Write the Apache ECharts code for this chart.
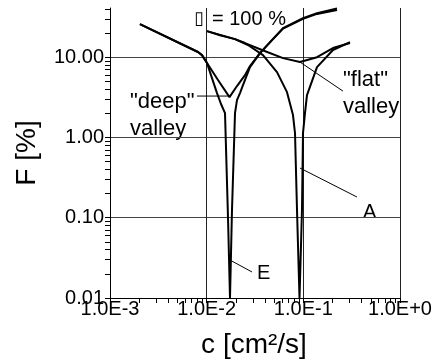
<!DOCTYPE html>
<html>
<head>
<meta charset="utf-8">
<script src="https://cdn.jsdelivr.net/npm/echarts@6/dist/echarts.min.js"></script>
<style>html,body{margin:0;padding:0;background:#fff}#c{width:435px;height:363px}</style>
</head>
<body>
<div id="c"></div>
<script>
// ---- tick labels ----
const xDecades = [0.001, 0.01, 0.1, 1];
const xTickLabels = ['1.0E-3', '1.0E-2', '1.0E-1', '1.0E+0'];
const yDecades = [0.01, 0.1, 1, 10];
const yTickLabels = ['0.01', '0.10', '1.00', '10.00'];
const minorMults = [2, 3, 4, 5, 6, 7, 8, 9];

// ---- series: "deep" valley curve ----
const cDeep = [0.00204, 0.00813, 0.00895, 0.01008, 0.0131, 0.01722, 0.02059, 0.02491, 0.02806, 0.03562, 0.04519, 0.06164, 0.0992, 0.1385, 0.2229];
const fDeep = [25.8, 11.6, 10.6, 8.45, 5.19, 3.18, 4.37, 5.98, 7.75, 11.25, 15.4, 23.0, 30.7, 35.4, 40.5];

// ---- series: curve E ----
const cE = [0.00204, 0.00813, 0.00895, 0.01008, 0.01135, 0.01279, 0.01407, 0.01548, 0.01663, 0.01743, 0.01828, 0.01964, 0.02059, 0.02212, 0.02375, 0.02806, 0.03562, 0.04519, 0.06164, 0.0992, 0.1385, 0.2229];
const fE = [25.8, 11.6, 10.6, 8.45, 5.49, 3.57, 2.61, 2.01, 0.0995, 0.01, 0.125, 2.01, 2.92, 3.57, 4.49, 7.53, 11.25, 15.3, 22.7, 30.0, 34.6, 38.8];

// ---- series: "flat" valley curve ----
const cFlat = [0.01008, 0.01374, 0.01964, 0.02491, 0.03735, 0.06164, 0.09235, 0.1385, 0.2026, 0.3039];
const fFlat = [21.1, 18.8, 16.8, 15.0, 12.3, 9.74, 8.69, 10.0, 13.0, 15.0];

// ---- series: curve A ----
const cA = [0.01008, 0.01964, 0.02675, 0.03825, 0.0534, 0.06778, 0.07816, 0.082, 0.086, 0.0913, 0.09684, 0.0992, 0.104, 0.1091, 0.1385, 0.2026, 0.3039];
const fA = [21.1, 16.8, 14.2, 10.6, 6.52, 3.67, 1.90, 1.135, 0.125, 0.01, 0.125, 1.135, 2.01, 3.37, 7.53, 12.3, 15.4];

// ---- annotation leader lines (data coordinates) ----
const leaders = [
  [[0.00794, 3.28], [0.0170, 3.28]],
  [[0.0924, 8.69], [0.257, 3.78]],
  [[0.0924, 0.416], [0.359, 0.181]],
  [[0.01743, 0.0297], [0.02944, 0.0211]]
];

const X_MIN = 0.001, X_MAX = 1, Y_MIN = 0.01, Y_MAX = 41;
const FONT = '"Liberation Sans", Arial, sans-serif';

const zip = (a, b) => a.map((v, i) => [v, b[i]]);
const xTicks = [];
xDecades.forEach(d => { xTicks.push(d); if (d < X_MAX) minorMults.forEach(m => xTicks.push(m * d)); });
const yTicks = [];
yDecades.forEach(d => { yTicks.push(d); minorMults.forEach(m => { if (m * d <= Y_MAX) yTicks.push(m * d); }); });

function labelFor(v, decs, labels) {
  const i = decs.findIndex(d => Math.abs(Math.log10(v) - Math.log10(d)) < 1e-6);
  return i >= 0 ? labels[i] : '';
}

function curve(c, f) {
  return { type: 'line', data: zip(c, f), symbol: 'none', lineStyle: { color: '#000', width: 2 } };
}
function leader(l) {
  return { type: 'line', data: [l[0], l[1]], symbol: 'none', lineStyle: { color: '#000', width: 1 } };
}

const chart = echarts.init(document.getElementById('c'));

const texts = [
  { type: 'text', x: 194, y: 19, style: { text: '\u25AF', font: '18px "DejaVu Sans", sans-serif', fill: '#000', verticalAlign: 'middle' } },
  { type: 'text', x: 212, y: 19, style: { text: '= 100 %', font: '20px ' + FONT, fill: '#000', verticalAlign: 'middle' } },
  { type: 'text', x: 130, y: 102, style: { text: '"deep"', font: '22px ' + FONT, fill: '#000', verticalAlign: 'middle' } },
  { type: 'text', x: 130, y: 129, style: { text: 'valley', font: '22px ' + FONT, fill: '#000', verticalAlign: 'middle' } },
  { type: 'text', x: 343, y: 80, style: { text: '"flat"', font: '22px ' + FONT, fill: '#000', verticalAlign: 'middle' } },
  { type: 'text', x: 343, y: 107, style: { text: 'valley', font: '22px ' + FONT, fill: '#000', verticalAlign: 'middle' } },
  { type: 'text', x: 363, y: 212, style: { text: 'A', font: '20px ' + FONT, fill: '#000', verticalAlign: 'middle' } },
  { type: 'text', x: 257, y: 273, style: { text: 'E', font: '20px ' + FONT, fill: '#000', verticalAlign: 'middle' } },
  { type: 'text', x: 27, y: 153, rotation: Math.PI / 2, style: { text: 'F [%]', font: '28px ' + FONT, fill: '#000', align: 'center', verticalAlign: 'middle' } },
  { type: 'text', x: 254, y: 345, style: { text: 'c [cm\u00B2/s]', font: '28px ' + FONT, fill: '#000', align: 'center', verticalAlign: 'middle' } }
];

chart.setOption({
  animation: false,
  grid: { left: 110, right: 35, top: 8, bottom: 65 },
  xAxis: [{
    type: 'log', min: X_MIN, max: X_MAX,
    axisLine: { onZero: false, lineStyle: { color: '#000', width: 1 } },
    axisTick: { show: false },
    axisLabel: { margin: 1, color: '#000', fontSize: 20, fontFamily: FONT,
      formatter: v => labelFor(v, xDecades, xTickLabels) },
    splitLine: { show: true, lineStyle: { color: '#222', width: 1 } }
  }, {
    type: 'log', min: X_MIN, max: X_MAX, position: 'bottom', offset: 0,
    axisLine: { show: false }, axisLabel: { show: false }, splitLine: { show: false },
    axisTick: { show: true, length: 5, customValues: xTicks, lineStyle: { color: '#000', width: 1 } }
  }],
  yAxis: [{
    type: 'log', min: Y_MIN, max: Y_MAX,
    axisLine: { onZero: false, lineStyle: { color: '#000', width: 1 } },
    axisTick: { show: false },
    axisLabel: { margin: 6, color: '#000', fontSize: 20, fontFamily: FONT,
      formatter: v => labelFor(v, yDecades, yTickLabels) },
    splitLine: { show: true, showMaxLine: false, lineStyle: { color: '#444', width: 1 } }
  }, {
    type: 'log', min: Y_MIN, max: Y_MAX, position: 'left', offset: 0,
    axisLine: { show: false }, axisLabel: { show: false }, splitLine: { show: false },
    axisTick: { show: true, length: 5, customValues: yTicks, lineStyle: { color: '#000', width: 1 } }
  }],
  series: [
    curve(cDeep, fDeep),
    curve(cE, fE),
    curve(cFlat, fFlat),
    curve(cA, fA)
  ].concat(leaders.map(leader)).concat([
    { type: 'line', xAxisIndex: 1, yAxisIndex: 1, data: [] }
  ]),
  graphic: texts
});
</script>
</body>
</html>
